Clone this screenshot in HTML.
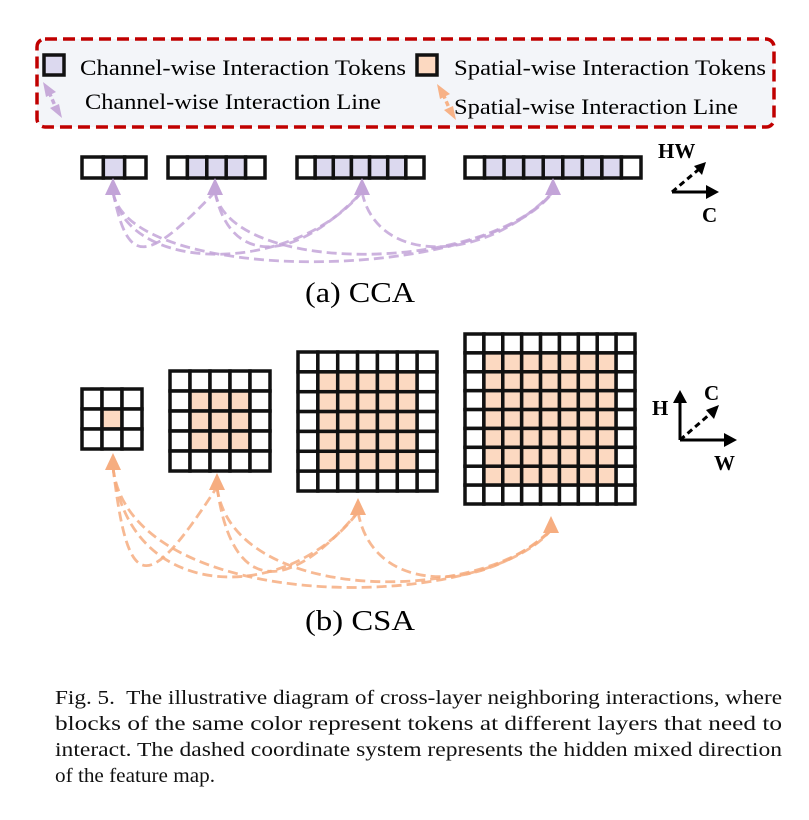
<!DOCTYPE html>
<html><head><meta charset="utf-8"><style>
body{margin:0;background:#fff;width:809px;height:820px;overflow:hidden;position:relative;font-family:"Liberation Serif",serif}
svg{position:absolute;left:0;top:0}
</style></head><body>
<svg width="809" height="820" xmlns="http://www.w3.org/2000/svg" font-family="Liberation Serif, serif">
<rect x="37" y="39" width="737" height="88" rx="8" fill="#f3f5f9" stroke="#c00000" stroke-width="3.5" stroke-dasharray="12,6"/>
<rect x="44" y="55" width="20" height="20" fill="#dcd9ef" stroke="#111" stroke-width="3.5"/>
<text x="80" y="75" font-size="22" textLength="326" lengthAdjust="spacingAndGlyphs">Channel-wise  Interaction Tokens</text>
<rect x="417" y="55" width="20" height="20" fill="#fcd9c1" stroke="#111" stroke-width="3.5"/>
<text x="454" y="75" font-size="22" textLength="312" lengthAdjust="spacingAndGlyphs">Spatial-wise  Interaction Tokens</text>
<text x="85" y="109" font-size="22" textLength="296" lengthAdjust="spacingAndGlyphs">Channel-wise  Interaction Line</text>
<text x="454" y="114" font-size="22" textLength="284" lengthAdjust="spacingAndGlyphs">Spatial-wise  Interaction Line</text>
<g id="g"></g>
<text x="305" y="302" font-size="29" textLength="110" lengthAdjust="spacingAndGlyphs">(a) CCA</text>
<text x="305" y="630" font-size="29" textLength="110" lengthAdjust="spacingAndGlyphs">(b) CSA</text>
<g stroke="#000" stroke-width="3" fill="none">
<path d="M672,192 L708,192"/><path d="M672,192 L698,170" stroke-dasharray="6,4"/>
<path d="M680,440 L680,400"/><path d="M680,440 L726,440"/><path d="M680,440 L710,414" stroke-dasharray="6,4"/>
</g>
<g fill="#000">
<path d="M719,192 L706,185 L706,199Z"/><path d="M706,162 L694,166 L702,175Z"/>
<path d="M680,390 L673,403 L687,403Z"/><path d="M737,440 L724,433 L724,447Z"/><path d="M719,405 L706,410 L714,419Z"/>
</g>
<g font-size="21" font-weight="bold">
<text x="658" y="158">HW</text><text x="702" y="222">C</text>
<text x="652" y="415">H</text><text x="704" y="400">C</text><text x="714" y="470">W</text>
</g>
<g font-size="20.5" fill="#111">
<text x="55" y="704" textLength="727" lengthAdjust="spacingAndGlyphs">Fig. 5.&#160; The illustrative diagram of cross-layer neighboring interactions, where</text>
<text x="55" y="730" textLength="727" lengthAdjust="spacingAndGlyphs">blocks of the same color represent tokens at different layers that need to</text>
<text x="55" y="756" textLength="727" lengthAdjust="spacingAndGlyphs">interact. The dashed coordinate system represents the hidden mixed direction</text>
<text x="55" y="782" textLength="160" lengthAdjust="spacingAndGlyphs">of the feature map.</text>
</g>
</svg>
<script>
var g=document.getElementById('g'),h='';
function R(x,y,w,hh,f){h+='<rect x="'+x+'" y="'+y+'" width="'+w+'" height="'+hh+'" fill="'+f+'" stroke="#111" stroke-width="3.5"/>';}
[[82,3,64],[168,5,97],[297,7,127],[465,9,176]].forEach(function(b){var n=b[1],cw=b[2]/n;
for(var i=0;i<n;i++){R(b[0]+i*cw,157,cw,21,(i==0||i==n-1)?'#fff':'#dcd9ef');}});
[[82,389,60,3],[170,371,100,5],[298,352,139,7],[465,334,170,9]].forEach(function(b){var n=b[3],c=b[2]/n;
for(var i=0;i<n;i++)for(var j=0;j<n;j++){var inner=i>0&&j>0&&i<n-1&&j<n-1;R(b[0]+j*c,b[1]+i*c,c,c,inner?'#fcd9c1':'#fff');}});
function curves(pts,col,bot){var s='';for(var i=0;i<pts.length;i++)for(var j=i+1;j<pts.length;j++){var a=pts[i],b=pts[j];
var d=bot+(j-i)*10;s+='<path d="M'+a[0]+','+(a[1]+12)+' C'+(a[0]+15)+','+d+' '+(b[0]-70)+','+d+' '+b[0]+','+(b[1]+12)+'" fill="none" stroke="'+col+'" stroke-width="2.8" stroke-dasharray="10,5" opacity="0.85"/>';}
pts.forEach(function(p){s+='<path d="M'+p[0]+','+(p[1]-2)+' L'+(p[0]-8)+','+(p[1]+15)+' L'+(p[0]+8)+','+(p[1]+15)+'Z" fill="'+col+'"/>';});return s;}
h+=curves([[113,180],[215,180],[362,180],[553,180]],'#c3a4d8',255);
h+=curves([[113,455],[217,475],[358,500],[551,518]],'#f6ad80',585);
h+='<path d="M49,92 L56,108" stroke="#c7aad9" stroke-width="3.5" stroke-dasharray="5,3"/><path d="M43,82 L56,92 L46,97Z M62,118 L50,108 L59,104Z" fill="#c7aad9"/>';
h+='<path d="M443,94 L450,110" stroke="#f7b287" stroke-width="3.5" stroke-dasharray="5,3"/><path d="M437,84 L450,94 L440,99Z M456,120 L444,110 L453,106Z" fill="#f7b287"/>';
g.innerHTML=h;
</script>
</body></html>
